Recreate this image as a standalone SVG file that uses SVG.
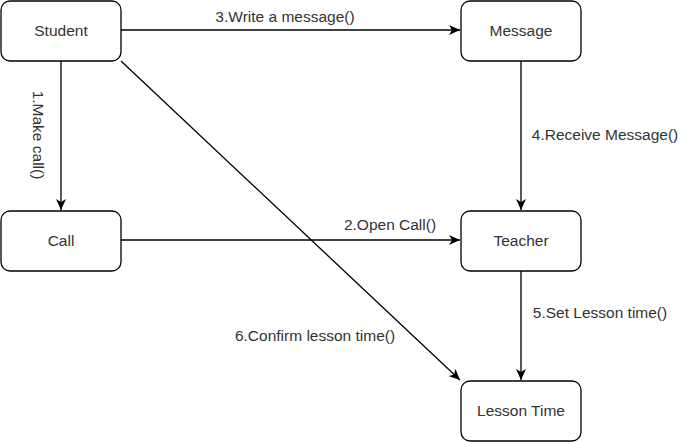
<svg xmlns="http://www.w3.org/2000/svg" width="692" height="442" viewBox="0 0 692 442">
<style>
.node rect{fill:#fff;stroke:#000;stroke-width:1.3}
.node text{font-family:"Liberation Sans",Arial,sans-serif;font-size:15.5px;fill:#333;text-anchor:middle;dominant-baseline:central}
.edges line{stroke:#000;stroke-width:1.3;fill:none}
.lbl{font-family:"Liberation Sans",Arial,sans-serif;font-size:15.5px;fill:#333;text-anchor:middle;dominant-baseline:central}
</style>
<defs>
<marker id="arr" viewBox="0 0 12 10" refX="11" refY="5" markerWidth="12" markerHeight="10" markerUnits="userSpaceOnUse" orient="auto">
<path d="M0,0 L11,5 L0,10 L3,5 Z" fill="#000"/>
</marker>
</defs>
<rect width="692" height="442" fill="#fff"/>
<g class="edges">
<line x1="121" y1="30" x2="460" y2="30" marker-end="url(#arr)"/>
<line x1="61" y1="61" x2="61" y2="210" marker-end="url(#arr)"/>
<line x1="521" y1="61" x2="521" y2="210" marker-end="url(#arr)"/>
<line x1="121" y1="240" x2="460" y2="240" marker-end="url(#arr)"/>
<line x1="521" y1="271" x2="521" y2="380" marker-end="url(#arr)"/>
<line x1="121" y1="61" x2="460" y2="380" marker-end="url(#arr)"/>
<text class="lbl" x="285" y="16">3.Write a message()</text>
<text class="lbl" x="38" y="135" transform="rotate(90 38 135)">1.Make call()</text>
<text class="lbl" x="605" y="134">4.Receive Message()</text>
<text class="lbl" x="390" y="224">2.Open Call()</text>
<text class="lbl" x="600" y="312">5.Set Lesson time()</text>
<text class="lbl" x="315" y="335">6.Confirm lesson time()</text>
</g>
<g id="student" class="node"><rect x="1" y="1" width="120" height="60" rx="9"/><text x="61" y="30">Student</text></g>
<g id="message" class="node"><rect x="461" y="1" width="120" height="60" rx="9"/><text x="521" y="30">Message</text></g>
<g id="call" class="node"><rect x="1" y="211" width="120" height="60" rx="9"/><text x="61" y="240">Call</text></g>
<g id="teacher" class="node"><rect x="461" y="211" width="120" height="60" rx="9"/><text x="521" y="240">Teacher</text></g>
<g id="lesson-time" class="node"><rect x="461" y="381" width="120" height="60" rx="9"/><text x="521" y="410">Lesson Time</text></g>
</svg>
